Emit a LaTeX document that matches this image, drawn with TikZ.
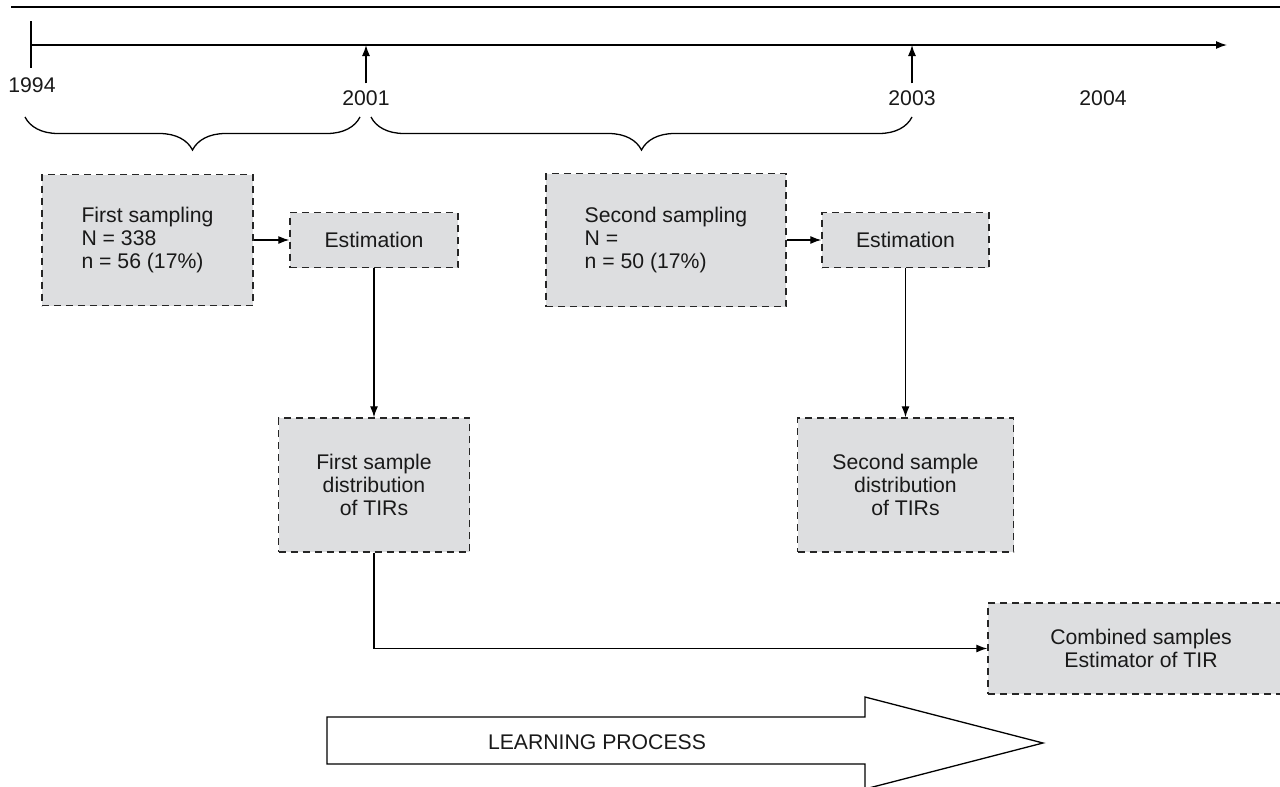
\documentclass[tikz,border=0pt]{standalone}
\usepackage{fontspec}
\setmainfont{Liberation Sans}
\usetikzlibrary{arrows.meta, decorations.pathreplacing, positioning, calc}
\definecolor{boxgray}{RGB}{221,222,224}

\begin{document}
\begin{tikzpicture}[
	x=0.5pt, y=-0.5pt,
	every node/.style={font=\fontsize{10.6}{11.3}\selectfont, text=black!90},
	box/.style={
		rectangle, draw=black!85, dash pattern=on 3.5pt off 2.5pt, fill=boxgray,
		line width=0.7pt, align=center, inner sep=0pt
	},
	arrow/.style={-{Latex[length=5.5pt, width=4pt]}, line width=0.65pt},
	brace/.style={decorate, decoration={brace, mirror, amplitude=16.5pt}, line width=0.65pt}
	]
	\useasboundingbox (0,0) rectangle (1280,787);
	
	% Timeline
	\draw[line width=0.75pt] (11,7) -- (1280,7);
	\coordinate (t0) at (31,45);
	\coordinate (tend) at (1227,45);
	\draw[arrow] (t0) -- (tend);
	\draw[line width=0.65pt] (31,21) -- (31,68);
	\node (y1994) at (32,85) {1994};
	\node (y2001) at (366,98) {2001};
	\node (y2003) at (912,98) {2003};
	\node (y2004) at (1103,98) {2004};
	\draw[arrow] (y2001.north) -- (y2001 |- t0);
	\draw[arrow] (y2003.north) -- (y2003 |- t0);
	
	% Braces
	\draw[brace] (25,117) -- (360,117);
	\draw[brace] (371,117) -- (912,117);
	
	% Nodes
	\node[box, align=left, minimum width=105.5pt, minimum height=65.5pt] (samp1) at (147.5,240)
		{First sampling\\N = 338\\n = 56 (17\%)};
	\node[box, minimum width=84pt, minimum height=27.5pt] (est1) at (374,240) {Estimation};
	\node[box, align=left, minimum width=120pt, minimum height=66.5pt] (samp2) at (666,240)
		{Second sampling\\N =\\n = 50 (17\%)};
	\node[box, minimum width=83.5pt, minimum height=27.5pt] (est2) at (905.5,240) {Estimation};
	\node[box, minimum width=95.5pt, minimum height=67pt] (dist1) at (374,485)
		{First sample\\distribution\\of TIRs};
	\node[box, minimum width=108pt, minimum height=67pt] (dist2) at (905.5,485)
		{Second sample\\distribution\\of TIRs};
	\node[box, minimum width=153pt, minimum height=45.5pt] (comb) at (1141,648.5)
		{Combined samples\\Estimator of TIR};
	
	% Arrows
	\draw[arrow] (samp1) -- (est1);
	\draw[arrow] (samp2) -- (est2);
	\draw[arrow] (est1) -- (dist1);
	\draw[arrow] (est2) -- (dist2);
	\draw[arrow] (dist1.south) |- (comb.west);
	
	% Learning process
	\draw[line width=0.65pt] (327,717) -- (865,717) -- (865,697) -- (1043,743)
		-- (865,789) -- (865,764) -- (327,764) -- cycle;
	\node (learn) at (597,742) {LEARNING PROCESS};
	
\end{tikzpicture}
\end{document}
